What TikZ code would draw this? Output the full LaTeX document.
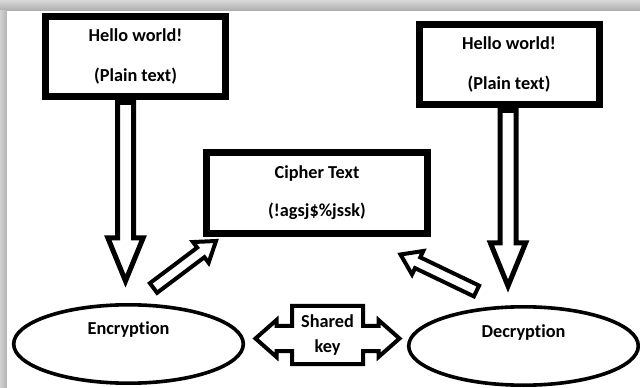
\documentclass[tikz,border=0pt]{standalone}
\usepackage{fontspec}
\setmainfont[Ligatures=NoCommon]{Carlito}
\usetikzlibrary{calc}
\usetikzlibrary{shapes}

% hollow block arrow from #2 to #3: half shaft #4, half head #5, head length #6
\newcommand{\hollowarrow}[6][]{%
  \coordinate (ha) at (#2);
  \coordinate (hb) at (#3);
  \coordinate (hc) at ($(hb)!#6!(ha)$);
  \draw[#1] ($(ha)!#4!90:(hb)$) -- ($(hc)!#4!90:(hb)$) -- ($(hc)!#5!90:(hb)$) -- (hb)
    -- ($(hc)!#5!-90:(hb)$) -- ($(hc)!#4!-90:(hb)$) -- ($(ha)!#4!-90:(hb)$) -- cycle;
}

\begin{document}
\begin{tikzpicture}[x=0.25mm,y=-0.25mm,
  every node/.style={font=\bfseries\fontsize{13}{28.5}\selectfont},
  textbox/.style={draw,line width=1.75mm,minimum width=45mm,minimum height=20mm,align=center},
  oval/.style={draw,ellipse,line width=0.9mm,minimum width=57.4mm,minimum height=19.6mm},
  block/.style={draw,fill=white,line width=1.25mm,line join=miter},
  thinblock/.style={draw,fill=white,line width=1mm,line join=miter}]
\useasboundingbox (0,0) rectangle (640,388);
% page with its grey frame
\fill[gray!50] (0,0) rectangle (640,388);
\shade[top color=gray!30,bottom color=gray!65] (0,0) rectangle (640,11);
\shade[left color=gray!35,right color=gray!60] (0,11) rectangle (7,388);
\fill[white] (7,11) rectangle (640,388);

\node[textbox] (plainL) at (135.5,56.5) {Hello world!\\(Plain text)};
\node[textbox] (plainR) at (509,64.5) {Hello world!\\(Plain text)};
\node[textbox,minimum width=55.25mm,minimum height=20.25mm,
  font=\bfseries\fontsize{13}{27}\selectfont] (cipher) at (317,193) {Cipher Text\\(!agsj\$\%jssk)};
\node[oval] (enc) at (128.5,344) {};
\node[oval] (dec) at (523.5,346) {};
\node (enctext) at ($(enc)+(0,-14)$) {Encryption};
\node (dectext) at ($(dec)+(0,-13)$) {Decryption};

% arrow ends
\coordinate (plout) at ($(plainL.south)+(-10,2.5)$);
\coordinate (encin) at ($(enc.north)+(-3,-22)$);
\coordinate (prout) at ($(plainR.south)+(-1,2.5)$);
\coordinate (decin) at ($(dec.north)+(-15.5,-19)$);
\coordinate (encout) at ($(enc.north)+(25,-15)$);
\coordinate (cin1) at ($(cipher.south west)+(13,4)$);
\coordinate (decout) at ($(dec.north)+(-47,-14)$);
\coordinate (cin2) at ($(cipher.south east)+(-30.5,17.5)$);

\hollowarrow[block]{plout}{encin}{2mm}{4.4mm}{10.75mm}
\hollowarrow[block]{prout}{decin}{2mm}{4.4mm}{10.75mm}
\hollowarrow[thinblock]{encout}{cin1}{1.5mm}{3.25mm}{4.75mm}
\hollowarrow[thinblock]{decout}{cin2}{1.5mm}{3.25mm}{4.75mm}

% shared key between the two ovals
\draw[thinblock] ($(327.5,335.5)+(-35.5,-29.5)$) -- ($(327.5,335.5)+(35.5,-29.5)$)
  -- ($(327.5,335.5)+(35.5,-9.5)$) -- ($(327.5,335.5)+(51,-9.5)$) -- ($(327.5,335.5)+(51,-15.5)$)
  -- ($(327.5,335.5)+(72,3)$) -- ($(327.5,335.5)+(51,21.5)$) -- ($(327.5,335.5)+(51,15.5)$)
  -- ($(327.5,335.5)+(35.5,15.5)$) -- ($(327.5,335.5)+(35.5,28.5)$) -- ($(327.5,335.5)+(-35.5,28.5)$)
  -- ($(327.5,335.5)+(-35.5,15.5)$) -- ($(327.5,335.5)+(-51,15.5)$) -- ($(327.5,335.5)+(-51,21.5)$)
  -- ($(327.5,335.5)+(-72,3)$) -- ($(327.5,335.5)+(-51,-15.5)$) -- ($(327.5,335.5)+(-51,-9.5)$)
  -- ($(327.5,335.5)+(-35.5,-9.5)$) -- cycle;
\node[align=center,font=\bfseries\fontsize{13}{17.8}\selectfont] (key) at (327.5,335.5) {Shared\\key};
\end{tikzpicture}
\end{document}
